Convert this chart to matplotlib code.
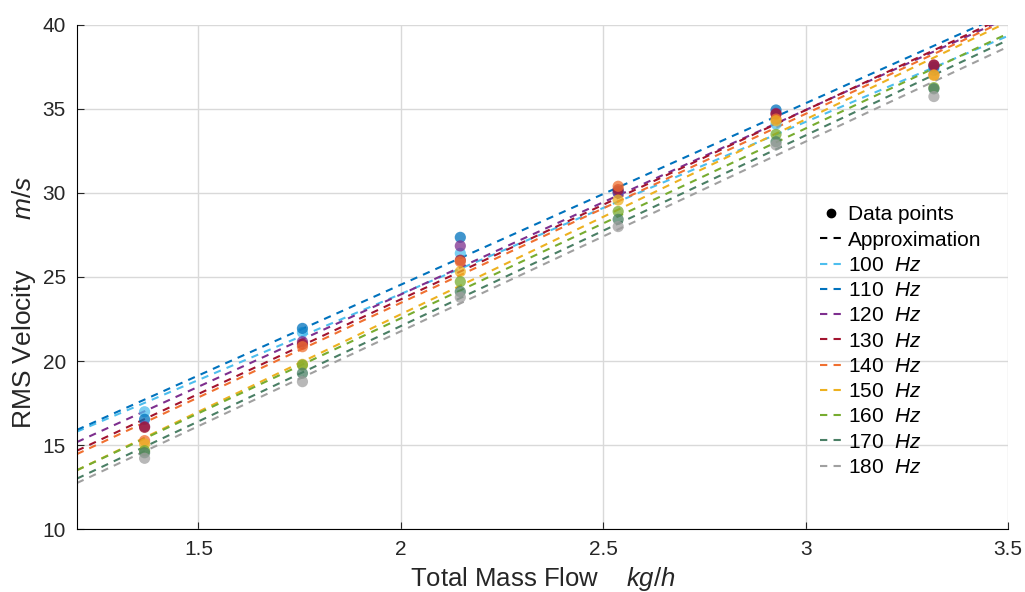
import numpy as np
import matplotlib.pyplot as plt
from matplotlib.lines import Line2D

plt.rcParams['font.family'] = ['Liberation Sans', 'DejaVu Sans']
plt.rcParams['mathtext.fontset'] = 'custom'
plt.rcParams['mathtext.rm'] = 'Liberation Sans'
plt.rcParams['mathtext.it'] = 'Liberation Sans:italic'

# measured data
mass_flow = [1.367, 1.757, 2.147, 2.537, 2.927, 3.317]
freqs = [100, 110, 120, 130, 140, 150, 160, 170, 180]
velocity = {
    100: [16.98, 21.70, 26.41, 30.00, 34.10, 37.30],
    110: [16.53, 21.94, 27.36, 30.10, 34.94, 37.50],
    120: [16.10, 21.15, 26.85, 30.00, 34.74, 37.60],
    130: [16.05, 21.00, 26.00, 30.20, 34.70, 37.62],
    140: [15.26, 20.85, 25.91, 30.40, 34.40, 37.04],
    150: [15.06, 19.80, 25.32, 29.58, 34.30, 37.00],
    160: [14.66, 19.76, 24.72, 28.90, 33.49, 36.27],
    170: [14.54, 19.27, 24.13, 28.43, 33.05, 36.20],
    180: [14.21, 18.77, 23.79, 28.00, 32.86, 35.74],
}
# linear approximation v = slope * m + offset
slopes = [10.24, 10.80, 10.98, 11.26, 11.25, 11.60, 11.30, 11.35, 11.29]
offsets = [3.51, 2.94, 2.00, 1.15, 0.96, -0.42, -0.06, -0.62, -0.81]

colors = ['#4DBEEE', '#0072BD', '#7E2F8E', '#A2142F', '#F07030',
          '#EDB120', '#77AC30', '#4A7F65', '#A0A0A0']

fig = plt.figure(figsize=(10.25, 5.92), dpi=100)
ax = fig.add_axes([0.0751, 0.1064, 0.9083, 0.8514])

xfit = np.array([1.2, 3.5])
for f, k, b, c in zip(freqs, slopes, offsets, colors):
    ax.plot(xfit, k * xfit + b, '--', color=c, lw=1.5, dashes=(3.5, 3))
for f, c in zip(freqs, colors):
    ax.scatter(mass_flow, velocity[f], s=65, color=c, alpha=0.75,
               edgecolors='none', zorder=3)

ax.set_xlim(1.2, 3.5)
ax.set_ylim(10, 40)
ax.set_xticks([1.5, 2, 2.5, 3, 3.5])
ax.set_xticklabels(['1.5', '2', '2.5', '3', '3.5'])
ax.set_yticks([10, 15, 20, 25, 30, 35, 40])
ax.grid(True, color='#d9d9d9', lw=1)
ax.set_axisbelow(True)
for s in ['top', 'right']:
    ax.spines[s].set_visible(False)
ax.spines['left'].set_color('black')
ax.spines['bottom'].set_color('black')
ax.tick_params(direction='in', length=5, labelsize=15, colors='#262626',
               pad=8)
ax.set_xlabel('Total Mass Flow    $\\it{kg/h}$', fontsize=18.5, color='#262626',
              labelpad=4)
ax.set_ylabel('RMS Velocity       $\\it{m/s}$', fontsize=19, color='#262626')
ax.yaxis.set_label_coords(-0.042, 0.45)

handles = [Line2D([], [], ls='none', marker='o', color='black', ms=6),
           Line2D([], [], ls='--', color='black', lw=1.5, dashes=(3.5, 3))]
labels = ['Data points', 'Approximation']
for f, c in zip(freqs, colors):
    handles.append(Line2D([], [], ls='--', color=c, lw=1.5, dashes=(3.5, 3)))
    labels.append('%d  $\\it{Hz}$' % f)
ax.legend(handles, labels, loc='upper left', bbox_to_anchor=(0.798, 0.642),
          frameon=False, fontsize=15, handlelength=1.1, handletextpad=0.25,
          labelspacing=0.3, borderaxespad=0, borderpad=0)

fig.savefig('out.png', dpi=100)
